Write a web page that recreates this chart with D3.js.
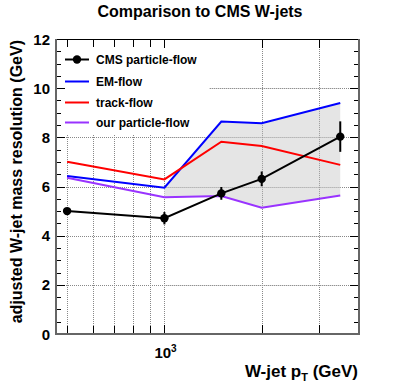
<!DOCTYPE html>
<html><head><meta charset="utf-8">
<script src="https://cdn.jsdelivr.net/npm/d3@7"></script>
<style>body{margin:0;background:#fff;} text{font-family:"Liberation Sans",Arial,sans-serif;font-weight:bold;}</style>
</head><body>
<svg id="c" width="399" height="385"></svg>
<script>
const ptValues = [500, 1000, 1500, 2000, 3500];
const cmsPF = [5.0, 4.71, 5.72, 6.31, 8.03];
const cmsErr = [0.08, 0.25, 0.26, 0.3, 0.62];
const emFlow = [6.43, 5.95, 8.64, 8.57, 9.4];
const trackFlow = [7.01, 6.29, 7.82, 7.65, 6.88];
const ourPF = [6.36, 5.56, 5.61, 5.14, 5.63];
const bandStart = 1;
const yTicks = [0, 2, 4, 6, 8, 10, 12];
const xGrid = [500, 600, 700, 800, 900, 1000, 2000, 3000];
const legendNames = ["CMS particle-flow", "EM-flow", "track-flow", "our particle-flow"];
const colors = ["#000000", "#0000ff", "#ff0000", "#9933ff"];

const svg = d3.select("#c");
const L = 56, R = 359, T = 39, B = 334;
const x = d3.scaleLog().domain([462, 4000]).range([L, R]);
const y = d3.scaleLinear().domain([0, 12]).range([B, T]);

// grid
const grid = svg.append("g").attr("stroke", "#888").attr("stroke-width", 1).attr("stroke-dasharray", "1,1");
yTicks.filter(v => v > 0 && v < 12).forEach(v => {
  grid.append("line").attr("x1", L).attr("x2", R).attr("y1", Math.round(y(v)) + 0.5).attr("y2", Math.round(y(v)) + 0.5);
});
xGrid.forEach(v => {
  grid.append("line").attr("x1", Math.round(x(v)) + 0.5).attr("x2", Math.round(x(v)) + 0.5).attr("y1", T).attr("y2", B);
});

// band
const idx = d3.range(bandStart, ptValues.length);
const area = d3.area().x(i => x(ptValues[i])).y0(i => y(ourPF[i])).y1(i => y(emFlow[i]));
svg.append("path").datum(idx).attr("d", area).attr("fill", "#e5e5e5");

// grid over band
const grid2 = svg.append("g").attr("stroke", "#999").attr("stroke-width", 1).attr("stroke-dasharray", "1,1");
yTicks.filter(v => v > 0 && v < 12).forEach(v => {
  grid2.append("line").attr("x1", x(1000)).attr("x2", x(3500)).attr("y1", Math.round(y(v)) + 0.5).attr("y2", Math.round(y(v)) + 0.5);
});
[2000, 3000].forEach(v => {
  grid2.append("line").attr("x1", Math.round(x(v)) + 0.5).attr("x2", Math.round(x(v)) + 0.5).attr("y1", y(9.4)).attr("y2", y(5.1));
});

// legend box (white, covers grid)
svg.append("rect").attr("x", L + 1).attr("y", T + 1).attr("width", 152).attr("height", 94).attr("fill", "#fff");

// axes with inward ticks
function yAxisTicks(g, x0, dir) {
  for (let v = 0; v <= 12.001; v += 0.5) {
    const major = Math.abs(v / 2 - Math.round(v / 2)) < 1e-6;
    const yy = Math.round(y(v)) + 0.5;
    g.append("line").attr("x1", x0).attr("x2", x0 + dir * (major ? 9 : 5)).attr("y1", yy).attr("y2", yy);
  }
}
const ax = svg.append("g").attr("stroke", "#000").attr("stroke-width", 1);
yAxisTicks(ax, L, 1);
yAxisTicks(ax, R, -1);
xGrid.forEach(v => {
  const xx = Math.round(x(v)) + 0.5;
  const len = v >= 1000 ? 9 : 8;
  ax.append("line").attr("x1", xx).attr("x2", xx).attr("y1", B).attr("y2", B - len);
  ax.append("line").attr("x1", xx).attr("x2", xx).attr("y1", T).attr("y2", T + len);
});
// frame
svg.append("line").attr("x1", L).attr("x2", R).attr("y1", T + 0.5).attr("y2", T + 0.5).attr("stroke", "#000").attr("stroke-width", 1);
svg.append("line").attr("x1", L).attr("x2", R + 1).attr("y1", B).attr("y2", B).attr("stroke", "#666").attr("stroke-width", 2);
svg.append("line").attr("x1", L).attr("x2", L).attr("y1", T).attr("y2", B + 1).attr("stroke", "#666").attr("stroke-width", 2);
svg.append("line").attr("x1", R).attr("x2", R).attr("y1", T).attr("y2", B + 1).attr("stroke", "#666").attr("stroke-width", 2);

// lines
const line = d3.line().x((d, i) => x(ptValues[i])).y(d => y(d));
[[emFlow, colors[1]], [trackFlow, colors[2]], [ourPF, colors[3]]].forEach(([s, c]) => {
  svg.append("path").datum(s).attr("d", line).attr("fill", "none").attr("stroke", c).attr("stroke-width", 2);
});
svg.append("path").datum(cmsPF).attr("d", line).attr("fill", "none").attr("stroke", "#000").attr("stroke-width", 2);
cmsPF.forEach((v, i) => {
  svg.append("line").attr("x1", x(ptValues[i])).attr("x2", x(ptValues[i]))
    .attr("y1", y(v - cmsErr[i])).attr("y2", y(v + cmsErr[i])).attr("stroke", "#000").attr("stroke-width", 2);
  svg.append("circle").attr("cx", x(ptValues[i])).attr("cy", y(v)).attr("r", 4.2).attr("fill", "#000");
});

// tick labels
yTicks.forEach(v => {
  svg.append("text").attr("x", 50).attr("y", y(v) + 5.5).attr("text-anchor", "end").attr("font-size", 15).text(v);
});
const xl = svg.append("text").attr("x", x(1000) - 10).attr("y", 358).attr("font-size", 15);
xl.append("tspan").text("10");
xl.append("tspan").attr("dy", -6).attr("font-size", 10).text("3");

// titles
svg.append("text").attr("x", 200).attr("y", 17).attr("text-anchor", "middle").attr("font-size", 16).text("Comparison to CMS W-jets");
const xt = svg.append("text").attr("x", 358).attr("y", 377).attr("text-anchor", "end").attr("font-size", 17);
xt.append("tspan").text("W-jet p");
xt.append("tspan").attr("dy", 4).attr("font-size", 11).text("T");
xt.append("tspan").attr("dy", -4).text(" (GeV)");
svg.append("text").attr("transform", "translate(22,40) rotate(-90)").attr("text-anchor", "end").attr("font-size", 16)
  .text("adjusted W-jet mass resolution (GeV)");

// legend
const legY = [59.5, 81.5, 102.5, 122.5];
legendNames.forEach((n, i) => {
  svg.append("line").attr("x1", 65).attr("x2", 89).attr("y1", legY[i]).attr("y2", legY[i]).attr("stroke", colors[i]).attr("stroke-width", 2);
  if (i === 0) svg.append("circle").attr("cx", 77).attr("cy", legY[i]).attr("r", 4.2).attr("fill", "#000");
  svg.append("text").attr("x", 96).attr("y", legY[i] + 4.5).attr("font-size", 12).text(n);
});
</script>
</body></html>
